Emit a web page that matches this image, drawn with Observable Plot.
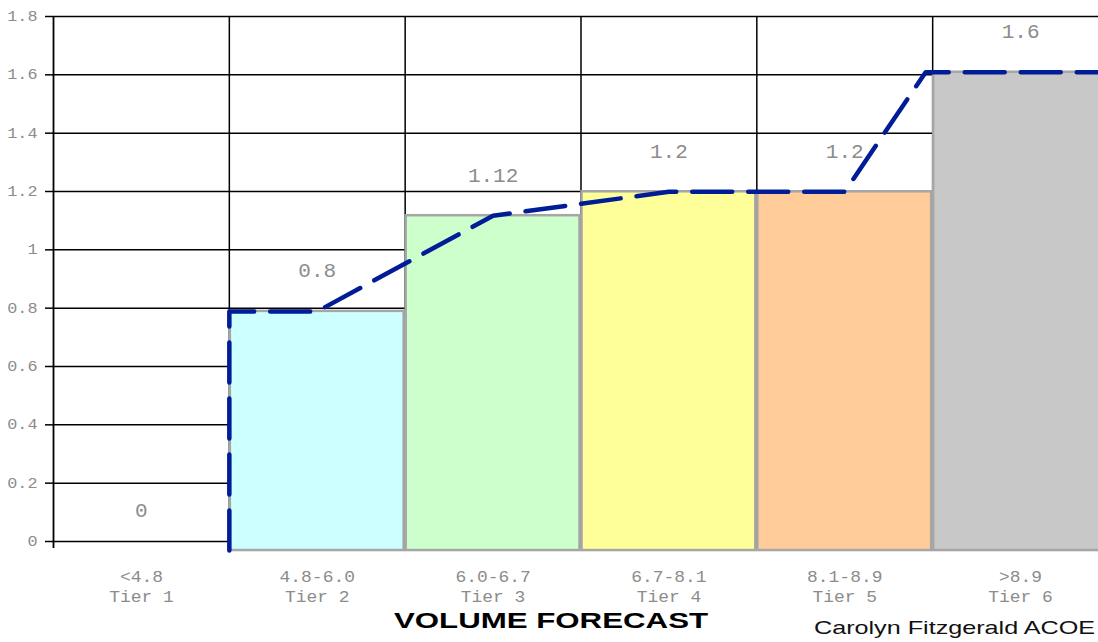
<!DOCTYPE html>
<html><head><meta charset="utf-8">
<script src="https://cdn.jsdelivr.net/npm/d3@7"></script>
<script src="https://cdn.jsdelivr.net/npm/@observablehq/plot@0.6"></script>
<style>
html,body{margin:0;padding:0;background:#fff;overflow:hidden;width:1098px;height:642px}
#wrap{position:relative;width:1098px;height:642px;overflow:hidden;background:#fff}
#chart{position:absolute;left:0;top:0;width:1108px}
#chart svg{max-width:none !important}
#title{position:absolute;left:551px;top:609.7px;font:bold 22px "Liberation Sans",Arial,sans-serif;line-height:22px;white-space:nowrap;color:#000;transform:translateX(-50%) scaleX(1.42)}
#caption{position:absolute;left:814px;top:618.6px;font:18.5px "Liberation Sans",Arial,sans-serif;line-height:18.5px;white-space:nowrap;color:#111;transform-origin:0 50%;transform:scaleX(1.36)}
</style></head>
<body><div id="wrap"><div id="chart"></div><div id="title">VOLUME FORECAST</div><div id="caption">Carolyn Fitzgerald ACOE</div></div>
<script>
// ---- data ----
const tiers  = ["Tier 1","Tier 2","Tier 3","Tier 4","Tier 5","Tier 6"];
const ranges = ["<4.8","4.8-6.0","6.0-6.7","6.7-8.1","8.1-8.9",">8.9"];
const values = [0, 0.8, 1.12, 1.2, 1.2, 1.6];
const colors = ["#ffffff","#ccffff","#ccffcc","#ffff99","#ffcc99","#c8c8c8"];
const yTicks = [0, 0.2, 0.4, 0.6, 0.8, 1, 1.2, 1.4, 1.6, 1.8];
const boundaries = [1, 2, 3, 4, 5];
// dashed series (x in tier units, values on the secondary axis)
const lineX = [1, 1, 1.5, 2.5, 3.5, 4.5, 4.96, 6];
const lineV = [0, 0.8, 0.8, 1.12, 1.2, 1.2, 1.6, 1.6];

// secondary (bar) axis, slightly offset from the primary one
const secBase = -0.031, secGain = 1.025;
const sec = v => secBase + secGain * v;

const rows = tiers.map((t, i) => ({i, tier: t, range: ranges[i], value: values[i], color: colors[i]}));
const linePts = lineX.map((x, j) => ({x, y: sec(lineV[j])}));

const mono = "'Liberation Mono','Courier New',monospace";
const gray = "#8c8c8c";

const plot = Plot.plot({
  width: 1108, height: 607,
  marginLeft: 53, marginRight: 0, marginTop: 16, marginBottom: 66,
  x: {domain: [0, 6], axis: null},
  y: {domain: [0, 1.8], axis: null},
  color: {type: "identity"},
  style: {background: "#fff", color: "#000", overflow: "visible", maxWidth: "none"},
  marks: [
    Plot.ruleY(yTicks, {stroke: "#000", strokeWidth: 1.5}),
    Plot.ruleX(boundaries, {y1: -0.024, y2: 1.8, stroke: "#000", strokeWidth: 1.5}),
    Plot.ruleX([0], {y1: -0.024, y2: 1.8, stroke: "#000", strokeWidth: 1.8}),
    Plot.rect(rows.filter(d => d.value > 0), {
      x1: d => d.i, x2: d => d.i + 1, y1: d => sec(0), y2: d => sec(d.value),
      fill: "color", stroke: "#a6a6a6", strokeWidth: 2.5, insetLeft: 1, insetRight: 1
    }),
    Plot.text(rows, {
      x: d => d.i + 0.5, y: d => sec(d.value), text: d => String(d.value),
      dy: -34, lineAnchor: "bottom", fontSize: 21, fontFamily: mono, fill: gray, ariaLabel: "bar-label"
    }),
    Plot.line(linePts, {x: "x", y: "y", stroke: "#001c96", strokeWidth: 4.5, strokeDasharray: "40 16"}),
    Plot.axisY({ticks: yTicks, tickSize: 8, tickPadding: 8, strokeWidth: 1.5, stroke: "#000",
      tickFormat: d => String(+d.toFixed(1)), fontSize: 14, fontFamily: mono, fill: gray, label: null}),
    Plot.axisX({ticks: [0.5, 1.5, 2.5, 3.5, 4.5, 5.5], tickSize: 0, tickPadding: 26,
      tickFormat: d => ranges[Math.floor(d)] + "\n" + tiers[Math.floor(d)],
      fontSize: 16, lineHeight: 1.25, fontFamily: mono, fill: gray, label: null})
  ]
});
plot.style.maxWidth = "none";
document.getElementById("chart").appendChild(plot);

function stretch(selector, k) {
  plot.querySelectorAll(selector).forEach(t => {
    const spans = t.querySelectorAll("tspan");
    const nodes = spans.length ? Array.from(spans) : [t];
    nodes.forEach(n => {
      const L = n.getComputedTextLength();
      n.setAttribute("textLength", (L * k).toFixed(2));
      n.setAttribute("lengthAdjust", "spacingAndGlyphs");
    });
  });
}
stretch('g[aria-label="y-axis tick label"] text', 1.2);
stretch('g[aria-label="x-axis tick label"] text', 1.12);
stretch('g[aria-label="bar-label"] text', 1.14);
</script></body></html>
